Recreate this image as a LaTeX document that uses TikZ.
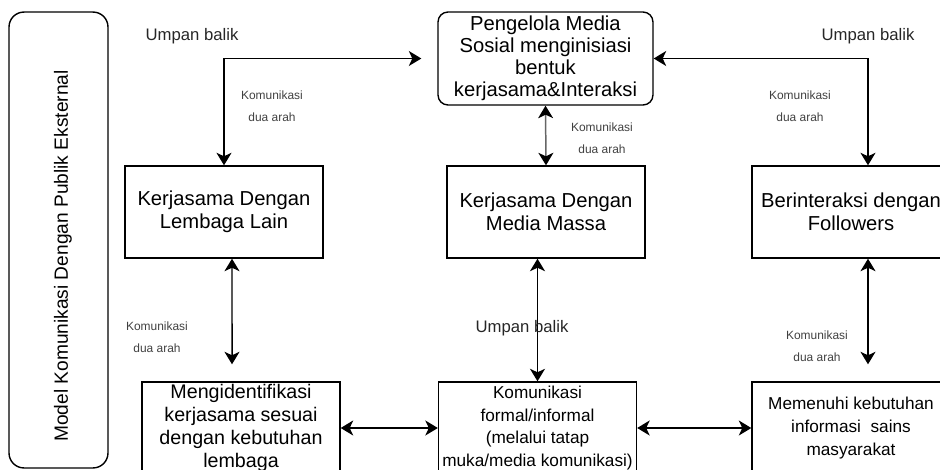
\documentclass[tikz,border=0pt]{standalone}
\usepackage{fontspec}
\setmainfont{Liberation Sans}
\usetikzlibrary{positioning,arrows.meta}

\begin{document}
\begin{tikzpicture}[x=0.02cm,y=-0.02cm,
  box/.style={draw,line width=0.8pt,minimum width=3.96cm,minimum height=1.84cm,align=center,inner sep=0pt,font=\fontsize{11.5}{13}\selectfont},
  rbox/.style={box,rounded corners=0.2cm,minimum width=4.3cm,minimum height=1.86cm,font=\fontsize{11.5}{12.5}\selectfont},
  sbox/.style={box,font=\fontsize{9.8}{12.8}\selectfont},
  link/.style={{Stealth[length=2.5mm,width=3mm,inset=0.7mm,color=black]}-{Stealth[length=2.5mm,width=3mm,inset=0.7mm,color=black]},line width=0.85pt},
  note/.style={font=\fontsize{6.8}{12.5}\selectfont,align=center,text=black!75},
  fb/.style={font=\fontsize{9.5}{11}\selectfont,text=black!85}
]
\useasboundingbox (0,0) rectangle (940,470);

% side panel
\node[draw,line width=0.8pt,rounded corners=0.3cm,minimum width=1.98cm,minimum height=9.12cm] (model) at (58.5,240) {};
\node[rotate=90,font=\fontsize{10.9}{13}\selectfont] (modeltxt) at (63,256) {Model Komunikasi Dengan Publik Eksternal};

% boxes
\node[rbox] (pengelola) at (545.5,58.5) {Pengelola Media\\Sosial menginisiasi\\bentuk\\kerjasama\&Interaksi};
\node[box] (lembaga) at (224,212) {Kerjasama Dengan\\Lembaga Lain};
\node[box] (massa) at (546,212) {Kerjasama Dengan\\Media Massa};
\node[box] (followers) at (851,212) {Berinteraksi dengan\\Followers};
\node[box,font=\fontsize{11.2}{13}\selectfont] (identifikasi) at (241,428) {Mengidentifikasi\\kerjasama sesuai\\dengan kebutuhan\\lembaga};
\node[sbox] (formal) at (537.5,428) {Komunikasi\\formal/informal\\(melalui tatap\\muka/media komunikasi)};
\node[sbox,font=\fontsize{9.8}{13}\selectfont] (sains) at (851,428) {Memenuhi kebutuhan\\informasi\ \ sains\\masyarakat};

% connectors
\draw[link,shorten >=0.32cm] (lembaga.north) |- (pengelola.west);
\draw[link] (pengelola.east) -| ([xshift=0.34cm]followers.north);
\draw[link,draw=black!60] (pengelola.south) -- (massa.north);
\draw[link,shorten >=0.34cm] ([xshift=0.16cm]lembaga.south) -- ([xshift=-0.18cm]identifikasi.north);
\draw[link] (formal.north |- massa.south) -- (formal.north);
\draw[link,shorten >=0.34cm] ([xshift=0.34cm]followers.south) -- ([xshift=0.34cm]sains.north);
\draw[link] (identifikasi.east) -- (formal.west);
\draw[link] (formal.east) -- (sains.west);

% labels
\node[fb] (fbkiri) at (192,36) {Umpan balik};
\node[fb] (fbkanan) at (868,36) {Umpan balik};
\node[fb] (fbtengah) at (522,328) {Umpan balik};
\node[note] (dua1) at (272,106.5) {Komunikasi\\dua arah};
\node[note] (dua2) at (602,138.5) {Komunikasi\\dua arah};
\node[note] (dua3) at (800,106.5) {Komunikasi\\dua arah};
\node[note] (dua4) at (157,337.5) {Komunikasi\\dua arah};
\node[note] (dua5) at (817,346.5) {Komunikasi\\dua arah};
\end{tikzpicture}
\end{document}
